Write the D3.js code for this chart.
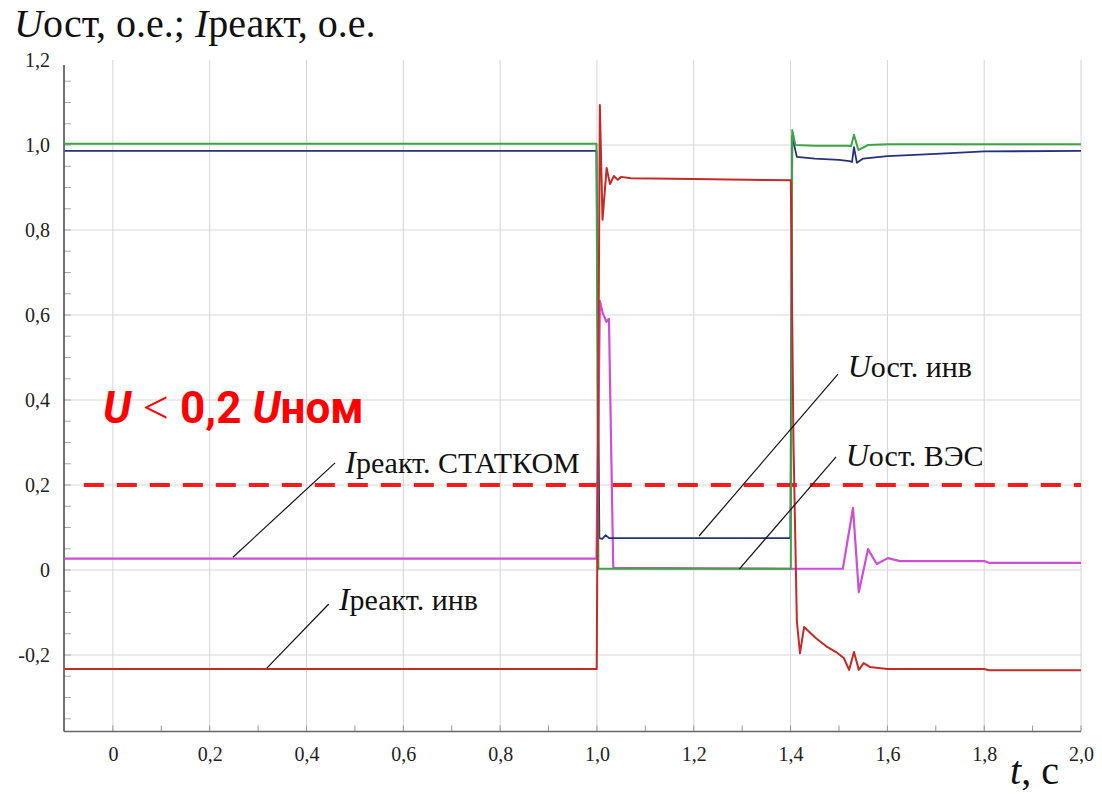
<!DOCTYPE html>
<html>
<head>
<meta charset="utf-8">
<script src="https://cdn.jsdelivr.net/npm/d3@7"></script>
<style>
  html, body { margin: 0; padding: 0; background: #fff; }
  svg { display: block; }
</style>
</head>
<body>
<svg id="chart" width="1102" height="794"></svg>
<script>
// ---------------- data ----------------
const xTicks = [0, 0.2, 0.4, 0.6, 0.8, 1.0, 1.2, 1.4, 1.6, 1.8, 2.0];
const yTicks = [-0.2, 0, 0.2, 0.4, 0.6, 0.8, 1.0, 1.2];

// U ост. ВЭС (green)
const vesT = [-0.1, 0.999, 1.003, 1.4005, 1.4035, 1.41, 1.45, 1.52, 1.525, 1.531, 1.54, 1.56, 1.6, 2.0];
const vesU = [1.003, 1.003, 0.003, 0.003, 1.035, 1.0, 0.998, 0.998, 0.997, 1.024, 0.988, 1.0, 1.002, 1.002];

// U ост. инв (blue)
const invUT = [-0.1, 0.999, 1.005, 1.011, 1.018, 1.025, 1.3995, 1.4035, 1.413, 1.45, 1.5, 1.522, 1.527, 1.531, 1.537, 1.55, 1.6, 1.7, 1.8, 2.0];
const invU  = [0.986, 0.986, 0.075, 0.073, 0.082, 0.075, 0.075, 1.02, 0.972, 0.968, 0.965, 0.962, 0.960, 0.995, 0.958, 0.968, 0.974, 0.979, 0.985, 0.986];

// I реакт. инв (red)
const invIT = [-0.1, 0.9995, 1.006, 1.0115, 1.02, 1.027, 1.035, 1.043, 1.05, 1.07, 1.2, 1.4005, 1.406, 1.413, 1.4195, 1.428, 1.452, 1.473, 1.494, 1.51, 1.521, 1.531, 1.541, 1.551, 1.564, 1.6, 1.8, 1.81, 2.0];
const invI  = [-0.233, -0.233, 1.094, 0.824, 0.946, 0.908, 0.927, 0.918, 0.925, 0.922, 0.920, 0.917, 0.30, -0.12, -0.196, -0.134, -0.16, -0.179, -0.193, -0.207, -0.235, -0.193, -0.235, -0.219, -0.228, -0.233, -0.233, -0.236, -0.236];

// I реакт. СТАТКОМ (magenta)
const stT = [-0.1, 0.999, 1.0062, 1.0118, 1.0196, 1.0248, 1.0337, 1.4, 1.508, 1.529, 1.541, 1.56, 1.578, 1.601, 1.626, 1.8, 1.81, 2.0];
const stI = [0.027, 0.027, 0.633, 0.605, 0.584, 0.591, 0.005, 0.003, 0.003, 0.146, -0.052, 0.049, 0.014, 0.028, 0.021, 0.021, 0.017, 0.017];

const threshold = 0.2;

// annotation anchors: [textT, textV, lineFromT, lineFromV, lineToT, lineToV]
const labelStat = [0.48, 0.228, 0.459, 0.252, 0.248, 0.030];
const labelInvI = [0.467, -0.094, 0.446, -0.080, 0.318, -0.231];
const labelInvU = [1.518, 0.454, 1.498, 0.461, 1.211, 0.080];
const labelVes  = [1.514, 0.245, 1.494, 0.266, 1.294, 0.002];

// ---------------- chart ----------------
const svg = d3.select("#chart");
const x = d3.scaleLinear().domain([-0.101, 2.0]).range([64, 1081]);
const y = d3.scaleLinear().domain([-0.38, 1.2]).range([731.5, 60]);

const serif = "'Liberation Serif', 'Times New Roman', serif";

// grid
const grid = svg.append("g");
grid.selectAll("line.v").data(xTicks).join("line")
  .attr("x1", d => x(d)).attr("x2", d => x(d))
  .attr("y1", y(1.2)).attr("y2", y(-0.38))
  .attr("stroke", "#d4d4d4").attr("stroke-width", 1);
grid.selectAll("line.h").data(yTicks.filter(v => v < 1.1)).join("line")
  .attr("x1", x(-0.101)).attr("x2", x(2.0))
  .attr("y1", d => y(d)).attr("y2", d => y(d))
  .attr("stroke", "#d8d8d8").attr("stroke-width", 1);

// minor ticks
const xMinor = d3.range(0, 20.5, 1).map(i => i / 10);
svg.append("g").selectAll("line").data(xMinor).join("line")
  .attr("x1", d => x(d)).attr("x2", d => x(d))
  .attr("y1", y(-0.38)).attr("y2", y(-0.38) - 6)
  .attr("stroke", "#999").attr("stroke-width", 1);
const yMinor = d3.range(-7, 24, 1).map(i => i * 0.05);
svg.append("g").selectAll("line").data(yMinor).join("line")
  .attr("x1", x(-0.101)).attr("x2", x(-0.101) + 7)
  .attr("y1", d => y(d)).attr("y2", d => y(d))
  .attr("stroke", "#aaa").attr("stroke-width", 1);

// axes
const fmt = v => v === 0 ? "0" : (v < 0 ? "-" : "") + Math.abs(v).toFixed(1).replace(".", ",");
const yAxis = svg.append("g").attr("transform", `translate(${x(-0.101)},0)`)
  .call(d3.axisLeft(y).tickValues(yTicks).tickSize(0).tickPadding(14).tickFormat(fmt));
yAxis.select(".domain").remove();
yAxis.attr("font-family", serif).attr("font-size", 20);
yAxis.selectAll("text").attr("fill", "#222");

const xAxis = svg.append("g").attr("transform", `translate(0,${y(-0.38)})`)
  .call(d3.axisBottom(x).tickValues(xTicks).tickSize(0).tickPadding(15).tickFormat(fmt));
xAxis.select(".domain").remove();
xAxis.attr("font-family", serif).attr("font-size", 20);
xAxis.selectAll("text").attr("fill", "#222");

svg.append("line").attr("x1", x(-0.101)).attr("x2", x(-0.101))
  .attr("y1", y(1.188)).attr("y2", y(-0.38)).attr("stroke", "#444").attr("stroke-width", 1.5);
svg.append("line").attr("x1", x(-0.101)).attr("x2", x(2.0))
  .attr("y1", y(-0.38)).attr("y2", y(-0.38)).attr("stroke", "#666").attr("stroke-width", 1.3);

// threshold dashed
svg.append("line").attr("x1", x(-0.06)).attr("x2", x(2.0))
  .attr("y1", y(threshold)).attr("y2", y(threshold))
  .attr("stroke", "#ff1a1a").attr("stroke-width", 4).attr("stroke-dasharray", "20,13");

// series
const line = d3.line().x(d => x(d[0])).y(d => y(d[1]));
const series = [
  { t: stT, v: stI, color: "#cc4fd4", w: 2.2 },
  { t: invUT, v: invU, color: "#27307f", w: 1.8 },
  { t: vesT, v: vesU, color: "#3fa347", w: 2 },
  { t: invIT, v: invI, color: "#c42a26", w: 2 }
];
series.forEach(s => {
  svg.append("path").datum(s.t.map((t, i) => [t, s.v[i]]))
    .attr("d", line).attr("fill", "none")
    .attr("stroke", s.color).attr("stroke-width", s.w).attr("stroke-linejoin", "round");
});

// annotations
function annot(a, parts) {
  svg.append("line")
    .attr("x1", x(a[2])).attr("y1", y(a[3])).attr("x2", x(a[4])).attr("y2", y(a[5]))
    .attr("stroke", "#111").attr("stroke-width", 1.2);
  const t = svg.append("text").attr("x", x(a[0])).attr("y", y(a[1]))
    .attr("font-family", serif).attr("font-size", 30).attr("fill", "#111");
  parts.forEach(p => t.append("tspan").attr("font-style", p[1] ? "italic" : "normal")
    .attr("font-size", p[1] ? 32 : 30).text(p[0]));
}
annot(labelStat, [["I", true], ["реакт. СТАТКОМ", false]]);
annot(labelInvI, [["I", true], ["реакт. инв", false]]);
annot(labelInvU, [["U", true], ["ост. инв", false]]);
annot(labelVes, [["U", true], ["ост. ВЭС", false]]);

// red condition label
const cond = svg.append("text").attr("x", 103).attr("y", 423)
  .attr("font-family", "Roboto, 'Liberation Sans', sans-serif").attr("font-size", 44)
  .attr("fill", "#ff0000").attr("font-weight", "bold");
cond.append("tspan").attr("font-style", "italic").text("U");
cond.append("tspan").attr("font-weight", "normal").attr("font-family", serif).attr("font-size", 46).text(" < ");
cond.append("tspan").text("0,2 ");
cond.append("tspan").attr("font-style", "italic").text("U");
cond.append("tspan").text("ном");

// title
const title = svg.append("text").attr("x", 14).attr("y", 37)
  .attr("font-family", serif).attr("font-size", 40).attr("fill", "#111");
title.append("tspan").attr("font-style", "italic").text("U");
title.append("tspan").text("ост, о.е.; ");
title.append("tspan").attr("font-style", "italic").text("I");
title.append("tspan").text("реакт, о.е.");

// x axis title
const xt = svg.append("text").attr("x", 1010).attr("y", 784)
  .attr("font-family", serif).attr("font-size", 40).attr("fill", "#111");
xt.append("tspan").attr("font-style", "italic").text("t");
xt.append("tspan").text(", с");
</script>
</body>
</html>
